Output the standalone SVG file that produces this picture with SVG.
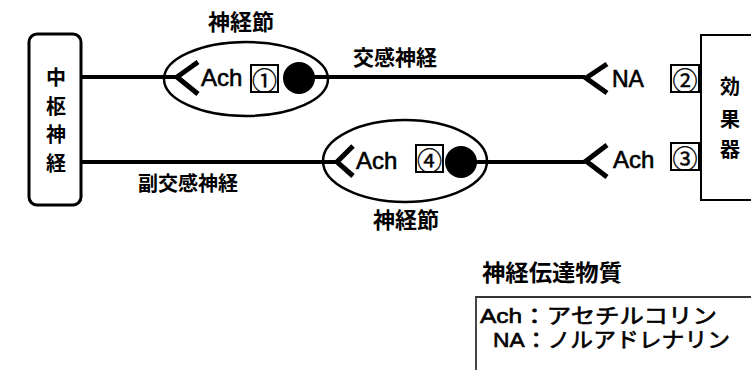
<svg xmlns="http://www.w3.org/2000/svg" width="751" height="370" viewBox="0 0 751 370">
<style>
.jp{font-family:"Noto Sans CJK JP","Noto Sans CJK SC",sans-serif;font-weight:700;fill:#000}
.lat{font-family:"Liberation Sans","Noto Sans CJK JP",sans-serif;fill:#000;stroke:#000;stroke-width:0.6}
.num{font-family:"Noto Sans CJK JP",sans-serif;fill:#000;stroke:#000;stroke-width:0.4;font-size:25px;text-anchor:middle;dominant-baseline:central}
.ln{stroke:#000;stroke-width:4;fill:none}
.fork{stroke:#000;stroke-width:5;fill:none;stroke-linejoin:miter}
.ell{stroke:#000;stroke-width:2.5;fill:#fff}
.nbox{stroke:#000;stroke-width:2;fill:#fff}
</style>
<rect width="751" height="370" fill="#fff"/>
<g id="cns">
<rect x="29" y="34" width="52" height="171" rx="8" fill="#fff" stroke="#000" stroke-width="3"/>
<text class="jp" font-size="20" text-anchor="middle" x="56" y="85">中</text>
<text class="jp" font-size="20" text-anchor="middle" x="56" y="114">枢</text>
<text class="jp" font-size="20" text-anchor="middle" x="56" y="142">神</text>
<text class="jp" font-size="20" text-anchor="middle" x="56" y="171">経</text>
</g>
<g id="effector">
<rect x="701" y="35" width="60" height="165" fill="#fff" stroke="#000" stroke-width="2"/>
<text class="jp" font-size="20" text-anchor="middle" x="730" y="94">効</text>
<text class="jp" font-size="20" text-anchor="middle" x="730" y="127">果</text>
<text class="jp" font-size="20" text-anchor="middle" x="730" y="157">器</text>
</g>
<g id="connectors">
<line class="ln" x1="81" y1="77" x2="176" y2="77"/>
<line class="ln" x1="81" y1="162" x2="336" y2="162"/>
</g>
<g id="ganglion1">
<ellipse class="ell" cx="246" cy="79" rx="82" ry="37"/>
<line class="ln" x1="164" y1="77" x2="176" y2="77"/>
<path class="fork" d="M198 62 L177 77 L198 94"/>
<text class="lat" font-size="24" x="201" y="86">Ach</text>
<rect class="nbox" x="251" y="65" width="27" height="27"/>
<text class="num" x="264.5" y="78.5">①</text>
<line class="ln" x1="300" y1="77" x2="585" y2="77"/>
<circle cx="299" cy="78" r="16" fill="#000"/>
<text class="jp" font-size="22" text-anchor="middle" x="241" y="30">神経節</text>
</g>
<g id="sympathetic-label">
<text class="jp" font-size="21" x="353" y="65">交感神経</text>
</g>
<g id="ganglion2">
<ellipse class="ell" cx="405" cy="161" rx="82" ry="41"/>
<line class="ln" x1="322" y1="162" x2="336" y2="162"/>
<path class="fork" d="M353 146 L337 162 L353 176"/>
<text class="lat" font-size="24" x="356" y="169">Ach</text>
<rect class="nbox" x="416" y="145" width="27" height="27"/>
<text class="num" x="429.5" y="158.5">④</text>
<line class="ln" x1="462" y1="162" x2="585" y2="162"/>
<circle cx="461" cy="162" r="16" fill="#000"/>
<text class="jp" font-size="22" text-anchor="middle" x="406" y="228">神経節</text>
</g>
<g id="parasympathetic-label">
<text class="jp" font-size="20" x="138" y="191">副交感神経</text>
</g>
<g id="receptor-NA">
<path class="fork" d="M607 64 L586 78 L607 93"/>
<text class="lat" font-size="23" x="612" y="87">NA</text>
<rect class="nbox" x="671" y="65" width="28" height="27"/>
<text class="num" x="685" y="78.5">②</text>
</g>
<g id="receptor-Ach">
<path class="fork" d="M607 145 L586 161 L607 177"/>
<text class="lat" font-size="24" x="613" y="168">Ach</text>
<rect class="nbox" x="671" y="143" width="28" height="27"/>
<text class="num" x="685" y="156.5">③</text>
</g>
<g id="legend">
<text class="jp" font-size="23" x="482" y="281" textLength="140" lengthAdjust="spacingAndGlyphs">神経伝達物質</text>
<path d="M476 370 L476 297 L751 297" fill="none" stroke="#333" stroke-width="1.8"/>
<text class="lat" font-size="21" x="480" y="323" textLength="237" lengthAdjust="spacingAndGlyphs" stroke-width="0.3">Ach：アセチルコリン</text>
<text class="lat" font-size="21" x="493" y="347" textLength="237" lengthAdjust="spacingAndGlyphs" stroke-width="0.3">NA：ノルアドレナリン</text>
</g>
</svg>
